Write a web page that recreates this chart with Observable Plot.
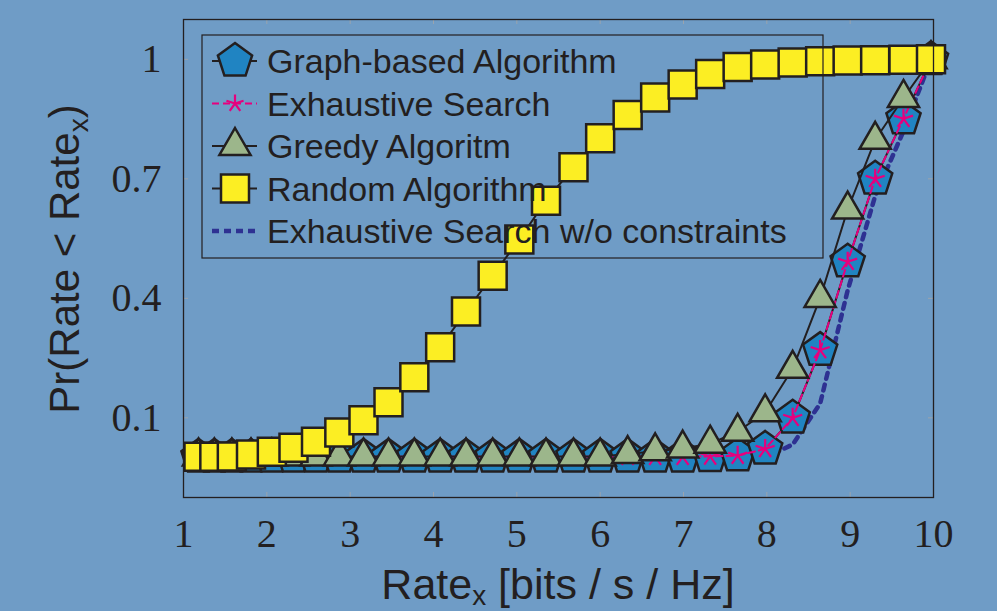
<!DOCTYPE html>
<html><head><meta charset="utf-8">
<script src="https://cdn.jsdelivr.net/npm/d3@7"></script>
<script src="https://cdn.jsdelivr.net/npm/@observablehq/plot@0.6"></script>
<style>
html,body{margin:0;padding:0;background:#6f9cc6;}
#chart{position:relative;width:997px;height:611px;overflow:hidden;}
</style></head><body><div id="chart"></div>
<script>
// ---- data ----
const rate = [1.18,1.37,1.58,1.81,2.06,2.32,2.59,2.87,3.16,3.46,3.77,4.08,4.39,4.71,5.03,5.35,5.68,6.00,6.33,6.66,6.99,7.32,7.65,7.98,8.31,8.64,8.97,9.30,9.64,9.97];
const graphBased = [0.002,0.002,0.002,0.002,0.002,0.002,0.002,0.002,0.002,0.002,0.002,0.002,0.002,0.002,0.002,0.002,0.002,0.002,0.002,0.002,0.002,0.003,0.005,0.022,0.100,0.270,0.492,0.700,0.851,1.000];
const exhaustive = [0.002,0.002,0.002,0.002,0.002,0.002,0.002,0.002,0.002,0.002,0.002,0.002,0.002,0.002,0.002,0.002,0.002,0.002,0.002,0.002,0.002,0.003,0.005,0.022,0.100,0.270,0.492,0.700,0.851,1.000];
const greedy = [0.003,0.003,0.003,0.003,0.003,0.003,0.003,0.003,0.003,0.003,0.003,0.003,0.003,0.003,0.003,0.003,0.003,0.003,0.009,0.016,0.023,0.035,0.065,0.114,0.223,0.401,0.623,0.798,0.903,1.000];
const randomAlg = [0.002,0.002,0.003,0.008,0.015,0.025,0.040,0.063,0.094,0.139,0.202,0.277,0.367,0.457,0.548,0.645,0.729,0.802,0.860,0.904,0.937,0.963,0.981,0.987,0.992,0.995,0.997,0.998,0.999,1.000];
const woConstraints = [0,0,0,0,0,0,0,0,0,0,0,0,0,0,0,0,0,0,0,0,0,0,0,0,0.033,0.136,0.420,0.657,0.820,1.000];
const xTicks = [1,2,3,4,5,6,7,8,9,10];
const yTicks = [0.1,0.4,0.7,1];
const yTickLabels = ["0.1","0.4","0.7","1"];
const seriesNames = ["Graph-based Algorithm","Exhaustive Search","Greedy Algoritm","Random Algorithm","Exhaustive Search w/o constraints"];

// ---- styles ----
const INK = "#231f20", BLUE = "#2084c2", MAG = "#e6007e", GREEN = "#9cb68b", YEL = "#fcee23", NAVY = "#2e3192";
const MSW = 2.5, LSW = 2;

const rad = s => Math.sqrt(s / Math.PI);
const pentagon = {draw(c, s){const r = rad(s); for(let i=0;i<5;i++){const a=-Math.PI/2+i*2*Math.PI/5; const x=r*Math.cos(a), y=r*Math.sin(a); i?c.lineTo(x,y):c.moveTo(x,y);} c.closePath();}};
const triangle = {draw(c, s){const r = rad(s); c.moveTo(0,-r); c.lineTo(r*0.866, r/2); c.lineTo(-r*0.866, r/2); c.closePath();}};
const square = {draw(c, s){const r = rad(s); c.rect(-r,-r,2*r,2*r);}};
const asterisk = {draw(c, s){const r = rad(s); for(let i=0;i<5;i++){const a=-Math.PI/2+i*2*Math.PI/5; c.moveTo(0,0); c.lineTo(r*Math.cos(a), r*Math.sin(a));}}};

const rows = ys => rate.map((x,i)=>({x, y: ys[i]}));

const svg = Plot.plot({
  width: 997, height: 611,
  marginLeft: 183, marginRight: 64, marginTop: 19, marginBottom: 114,
  x: {domain: [1,10]},
  y: {domain: [-0.1, 1.1]},
  style: {background: "transparent", color: INK, fontFamily: "'Liberation Serif', serif", overflow: "visible"},
  marks: [
    Plot.tickX(xTicks, {x: d=>d, insetTop: 473, stroke: "#9aa4ae", strokeWidth: 1}),
    Plot.tickX(xTicks, {x: d=>d, insetBottom: 473, stroke: "#9aa4ae", strokeWidth: 1}),
    Plot.tickY(yTicks, {y: d=>d, insetRight: 745, stroke: "#9aa4ae", strokeWidth: 1}),
    Plot.tickY(yTicks, {y: d=>d, insetLeft: 745, stroke: "#9aa4ae", strokeWidth: 1}),
    Plot.axisX({ticks: xTicks, tickSize: 0, tickPadding: 21, fontSize: 40, label: null, fill: INK}),
    Plot.axisY({ticks: yTicks, tickSize: 0, tickPadding: 22, fontSize: 40, label: null, fill: INK, tickFormat: (d,i)=>yTickLabels[i]}),
    Plot.line(rows(woConstraints), {x:"x", y:"y", stroke: NAVY, strokeWidth: 4.5, strokeDasharray: "6,6"}),
    Plot.line(rows(graphBased), {x:"x", y:"y", stroke: INK, strokeWidth: LSW}),
    Plot.dot(rows(graphBased), {x:"x", y:"y", symbol: pentagon, r: 18, fill: BLUE, stroke: INK, strokeWidth: MSW}),
    Plot.line(rows(exhaustive), {x:"x", y:"y", stroke: MAG, strokeWidth: LSW, strokeDasharray: "7,4"}),
    Plot.dot(rows(exhaustive), {x:"x", y:"y", symbol: asterisk, r: 10, fill: "none", stroke: MAG, strokeWidth: 2.2}),
    Plot.line(rows(greedy), {x:"x", y:"y", stroke: INK, strokeWidth: LSW}),
    Plot.dot(rows(greedy), {x:"x", y:"y", symbol: triangle, r: 18, fill: GREEN, stroke: INK, strokeWidth: MSW}),
    Plot.line(rows(randomAlg), {x:"x", y:"y", stroke: INK, strokeWidth: LSW}),
    Plot.dot(rows(randomAlg), {x:"x", y:"y", symbol: square, r: 14, fill: YEL, stroke: INK, strokeWidth: MSW}),
    Plot.frame({stroke: INK, strokeWidth: 1.3})
  ]
});
document.getElementById("chart").appendChild(svg);

// ---- axis titles ----
const s = d3.select(svg);
const SANS = "'Liberation Sans', Arial, sans-serif";
const xt = s.append("text").attr("x", 558).attr("y", 599).attr("text-anchor","middle")
  .attr("font-family", SANS).attr("font-size", 43).attr("fill", INK);
xt.append("tspan").text("Rate");
xt.append("tspan").attr("font-size", 28).attr("dy", 6).text("x");
xt.append("tspan").attr("dy", -6).text(" [bits / s / Hz]");

const yt = s.append("text").attr("transform","translate(79,259) rotate(-90)").attr("text-anchor","middle")
  .attr("font-family", SANS).attr("font-size", 42).attr("fill", INK);
yt.append("tspan").text("Pr(Rate < Rate");
yt.append("tspan").attr("font-size", 28).attr("dy", 9).text("x");
yt.append("tspan").attr("dy", -9).text(")");

// ---- legend ----
const lg = s.append("g");
lg.append("rect").attr("x", 202).attr("y", 35).attr("width", 621).attr("height", 223)
  .attr("fill","none").attr("stroke", INK).attr("stroke-width", 1.2);
const legendSpec = [
  {sym: pentagon, r: 18, fill: BLUE, stroke: INK, line: INK, dash: null},
  {sym: asterisk, r: 9, fill: "none", stroke: MAG, line: MAG, dash: "7,4"},
  {sym: triangle, r: 18, fill: GREEN, stroke: INK, line: INK, dash: null},
  {sym: square, r: 14, fill: YEL, stroke: INK, line: INK, dash: null},
  {sym: null, line: NAVY, dash: "7,5", width: 4.5}
];
legendSpec.forEach((d, i) => {
  const cy = 61 + i * 42.5;
  lg.append("line").attr("x1", 212).attr("x2", 257).attr("y1", cy).attr("y2", cy)
    .attr("stroke", d.line).attr("stroke-width", d.width || LSW).attr("stroke-dasharray", d.dash);
  if (d.sym) {
    lg.append("path").attr("transform", `translate(235,${cy})`)
      .attr("d", d3.symbol(d.sym, Math.PI * d.r * d.r)())
      .attr("fill", d.fill).attr("stroke", d.stroke).attr("stroke-width", d.fill === "none" ? 2.2 : MSW);
  }
  lg.append("text").attr("x", 267).attr("y", cy + 12).attr("text-anchor", "start").attr("font-family", SANS)
    .attr("font-size", 34).attr("fill", INK).text(seriesNames[i]);
});
</script></body></html>
